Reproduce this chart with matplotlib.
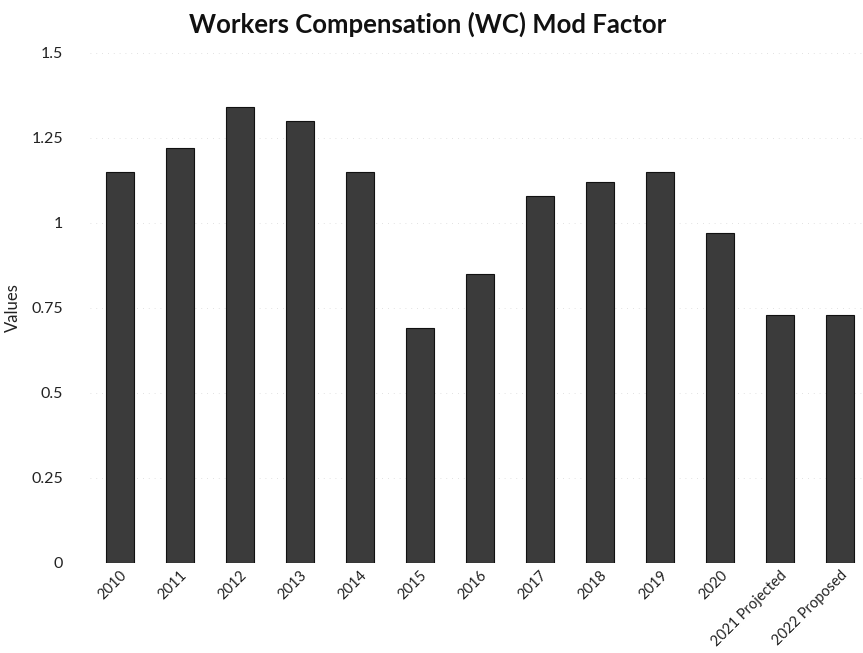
import matplotlib
matplotlib.use("Agg")
import matplotlib.pyplot as plt

categories = ["2010", "2011", "2012", "2013", "2014", "2015", "2016",
              "2017", "2018", "2019", "2020", "2021 Projected", "2022 Proposed"]
mod_factor = [1.15, 1.22, 1.34, 1.30, 1.15, 0.69, 0.85,
              1.08, 1.12, 1.15, 0.97, 0.73, 0.73]
y_ticks = [0, 0.25, 0.5, 0.75, 1, 1.25, 1.5]
y_tick_labels = ["0", "0.25", "0.5", "0.75", "1", "1.25", "1.5"]

plt.rcParams['font.family'] = ['Lato', 'DejaVu Sans']

fig = plt.figure(figsize=(8.63, 6.53), dpi=100)
ax = fig.add_axes([0.104, 0.138, 0.896, 0.781])

x = range(len(categories))
ax.bar(x, mod_factor, width=0.47, color="#3b3b3b", edgecolor="#111111", linewidth=0.8, zorder=3)

ax.set_ylim(0, 1.5)
ax.set_xlim(-0.5, 12.38)
ax.set_yticks(y_ticks)
ax.set_yticklabels(y_tick_labels, fontsize=11.5, color="#222222")
ax.set_xticks(list(x))
ax.set_xticklabels(categories, rotation=45, ha="right", rotation_mode="anchor",
                   fontsize=10.5, color="#222222")
ax.tick_params(axis="both", length=0)
ax.tick_params(axis="y", pad=19)
ax.tick_params(axis="x", pad=4)

for s in ax.spines.values():
    s.set_visible(False)
ax.yaxis.grid(True, color="#d8d8d8", linewidth=0.6, linestyle=(0, (1, 6)), zorder=0)

ax.set_ylabel("Values", fontsize=12, color="#222222", labelpad=8)
fig.text(0.495, 0.962, "Workers Compensation (WC) Mod Factor", ha="center", va="center",
         fontsize=18.5, fontweight="bold", color="#111111")

fig.savefig("out.png", dpi=100)
